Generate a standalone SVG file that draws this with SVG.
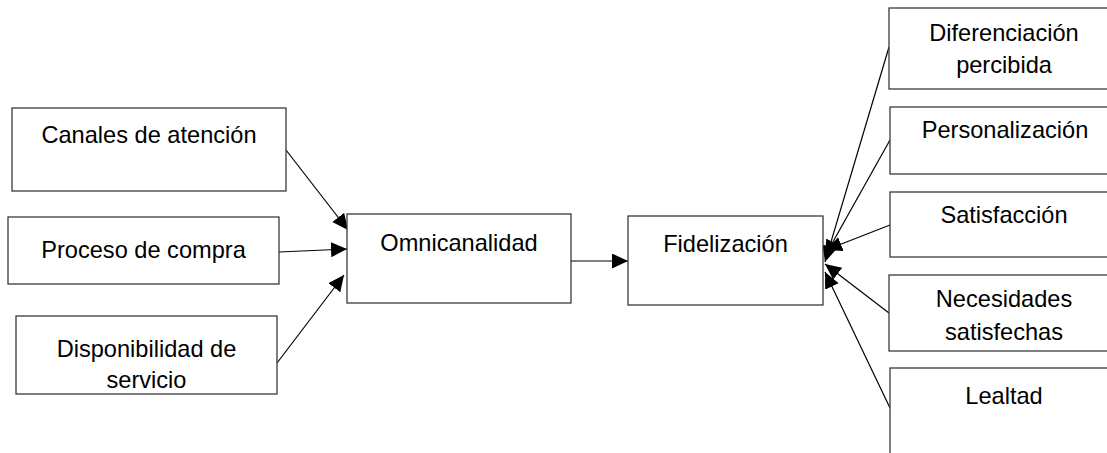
<svg xmlns="http://www.w3.org/2000/svg" width="1107" height="453" viewBox="0 0 1107 453">
<defs>
<style>
.box{fill:#fff;stroke:#3a3a3a;stroke-width:1.3}
.t{font-family:"Liberation Sans",Arial,sans-serif;font-size:23.6px;fill:#000;text-anchor:middle}
.c{stroke:#000;stroke-width:1.2;fill:none;marker-end:url(#ah)}
</style>
<marker id="ah" markerUnits="userSpaceOnUse" markerWidth="18" markerHeight="18" refX="16" refY="7.5" orient="auto">
<path d="M0,0 L16,7.5 L0,15 Z" fill="#000"/>
</marker>
</defs>
<rect width="1107" height="453" fill="#fff"/>
<g id="connectors">
<line class="c" x1="286" y1="150" x2="348" y2="230"/>
<line class="c" x1="279" y1="252" x2="347" y2="249"/>
<line class="c" x1="277" y1="363" x2="344" y2="275"/>
<line class="c" x1="571" y1="261" x2="628" y2="261"/>
<line class="c" x1="889" y1="47" x2="825" y2="262"/>
<line class="c" x1="890" y1="140" x2="825" y2="256"/>
<line class="c" x1="890" y1="225" x2="826" y2="250"/>
<line class="c" x1="889" y1="313" x2="825" y2="264"/>
<line class="c" x1="890" y1="408" x2="825" y2="272"/>
</g>
<g id="canales"><rect class="box" x="12" y="108" width="274" height="83"/><text class="t" x="149" y="143">Canales de atención</text></g>
<g id="proceso"><rect class="box" x="8" y="217" width="271" height="67"/><text class="t" x="143.5" y="258">Proceso de compra</text></g>
<g id="disponibilidad"><rect class="box" x="16" y="316" width="261" height="78"/><text class="t" x="146.5" y="357">Disponibilidad de</text><text class="t" x="146.5" y="388">servicio</text></g>
<g id="omnicanalidad"><rect class="box" x="347" y="214" width="224" height="89"/><text class="t" x="459" y="251">Omnicanalidad</text></g>
<g id="fidelizacion"><rect class="box" x="628" y="216" width="195" height="89"/><text class="t" x="725.5" y="252">Fidelización</text></g>
<g id="diferenciacion"><rect class="box" x="889" y="8" width="232" height="81"/><text class="t" x="1004" y="41">Diferenciación</text><text class="t" x="1004" y="73">percibida</text></g>
<g id="personalizacion"><rect class="box" x="890" y="107" width="232" height="67"/><text class="t" x="1005" y="138">Personalización</text></g>
<g id="satisfaccion"><rect class="box" x="890" y="192" width="232" height="65"/><text class="t" x="1004" y="223">Satisfacción</text></g>
<g id="necesidades"><rect class="box" x="889" y="275" width="232" height="76"/><text class="t" x="1004" y="307">Necesidades</text><text class="t" x="1004" y="340">satisfechas</text></g>
<g id="lealtad"><rect class="box" x="890" y="368" width="232" height="100"/><text class="t" x="1004" y="404">Lealtad</text></g>
</svg>
